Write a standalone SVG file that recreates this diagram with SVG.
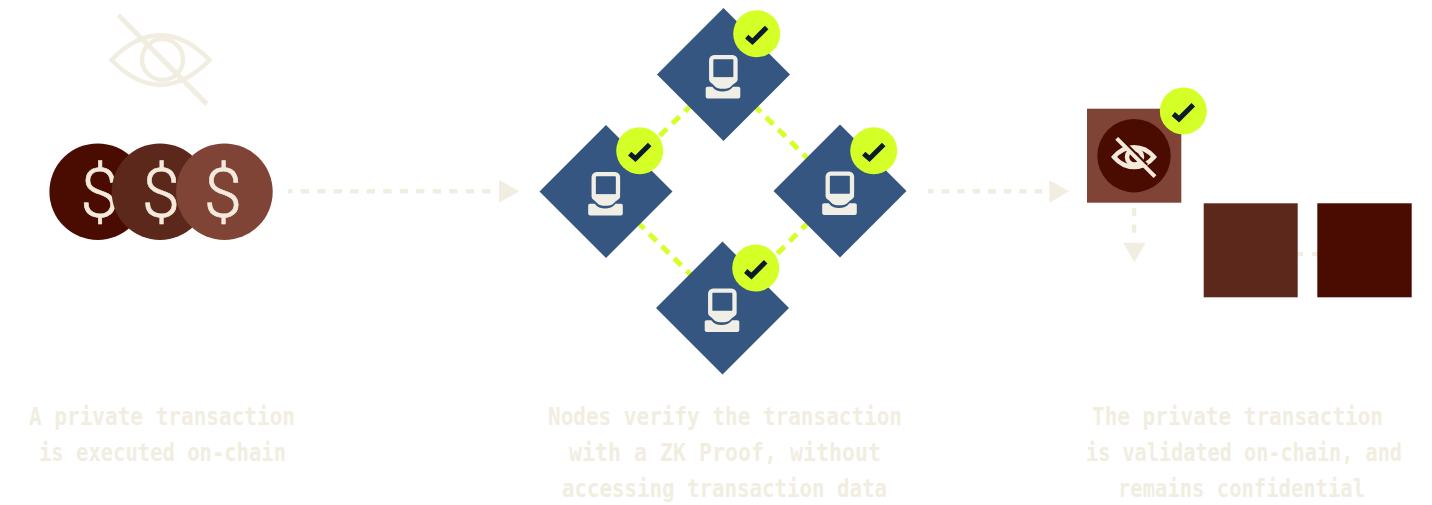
<svg xmlns="http://www.w3.org/2000/svg" width="1432" height="505" viewBox="0 0 1432 505">
<style>
.lab{font-family:"DejaVu Sans Mono","Liberation Mono",monospace;font-weight:700;font-size:24px;fill:#f1eee1}
.usd{font-family:Roboto,"Liberation Sans",sans-serif;font-weight:300;font-size:69px;fill:#f4eadc;stroke:#f4eadc;stroke-width:.6;text-anchor:middle}
.g{stroke:#d4ff27;stroke-width:5;stroke-dasharray:10 7.4;fill:none}
.b{stroke:#f1eee1;stroke-width:4.5;stroke-dasharray:8.300 8.200;fill:none}
.h{fill:#f1eee1}
.eye{fill:none;stroke:#f1eee1;stroke-width:4.500}
.eyes{fill:none;stroke:#f4eadc;stroke-width:4.500}
.d{fill:#345680}
</style>
<defs>
<g id="badge"><circle r="23.5" fill="#d4ff27"/><path d="M-10 3L-4.300 8 10-6.300" fill="none" stroke="#0c1b28" stroke-width="5"/></g>
<g id="pc"><rect x="-12.300" y="-17.400" width="24.300" height="22.400" rx="3" fill="none" stroke="#f1eee6" stroke-width="4.300"/><path d="M-14.400 3V5.500C-14 8-11 9-9 11.500C-7 13.800-4 14.300-1 14.300C3 14.300 6 13.800 8 11.500C10 9 13.500 8 14.100 5.500V3Z" fill="#f1eee6"/><path d="M-16 12.200H-11.200C-9 15.500-5 17-1 17C3 17 7 15.500 9.500 12.200H15C16 12.200 16.800 13 16.800 14V22C16.800 23 16 23.900 15 23.900H-16C-17 23.900-17.800 23-17.800 22V14C-17.800 13-17 12.200-16 12.200Z" fill="#f1eee6"/></g>
</defs>
<rect width="1432" height="505" fill="#fff"/>
<g id="connectors">
<path class="g" d="M692 104.500L648 147"/>
<path class="g" d="M753.700 105L808 159"/>
<path class="g" d="M637 221.700L692 276"/>
<path class="g" d="M809 221.700L765 266"/>
<path class="b" stroke-dashoffset="3.800" d="M288 191.300H491"/>
<path class="h" d="M499 180L519.300 191.300 499 202.700Z"/>
<path class="b" style="stroke-dasharray:7.500 8" stroke-dashoffset="1.800" d="M928 191.300H1043"/>
<path class="h" d="M1049.300 180L1069 191.300 1049.300 203Z"/>
<path class="b" d="M1134 208V234"/>
<path class="h" d="M1123.300 242.700H1145.700L1134.300 262.300Z"/>
<path class="b" style="stroke-dasharray:5.500 9" d="M1297.700 254H1318"/>
</g>
<g id="hidden-eye"><path class="eye" d="M111.500 60C128 43 143 35.300 160.500 35.300S193 43 209.500 60C193 77 178 84.700 160.500 84.700S128 77 111.500 60Z"/><circle class="eye" cx="162.500" cy="59.500" r="20.500"/><path class="eye" style="stroke-width:5" d="M118.300 15L206.700 104"/></g>
<g id="coins">
<circle cx="97.700" cy="191.700" r="48.300" fill="#4a0c00"/><text class="usd" x="99.300" y="216.700">$</text>
<circle cx="160" cy="191.700" r="48.300" fill="#5c281c"/><text class="usd" x="161" y="216.700">$</text>
<circle cx="224.400" cy="191.700" r="48.300" fill="#7f4435"/><text class="usd" x="223" y="216.700">$</text>
</g>
<g id="node-top"><path class="d" d="M723.500 8L790 74.500 723.500 141 657 74.500Z"/><use href="#pc" x="723.500" y="74.500"/><use href="#badge" x="756.700" y="33.700"/></g>
<g id="node-left"><path class="d" d="M606 125L672.500 191.500 606 258 539.500 191.500Z"/><use href="#pc" x="606" y="191.500"/><use href="#badge" x="639.700" y="150.700"/></g>
<g id="node-right"><path class="d" d="M840 124.500L906.500 191 840 257.500 773.500 191Z"/><use href="#pc" x="840" y="191"/><use href="#badge" x="873.700" y="150.700"/></g>
<g id="node-bottom"><path class="d" d="M722.500 241.500L789 308 722.500 374.500 656 308Z"/><use href="#pc" x="722.500" y="308"/><use href="#badge" x="755.700" y="268"/></g>
<g id="block-private"><rect x="1087" y="108.700" width="94.300" height="94" fill="#7f4435"/><circle cx="1134" cy="155.700" r="36.700" fill="#4a0c00"/><path class="eyes" d="M1114 157C1120 150 1127 147.300 1134 147.300S1148 150 1154 157C1148 164 1141 167 1134 167S1120 164 1114 157Z"/><circle class="eyes" cx="1134.500" cy="157" r="7.500"/><path d="M1127 145L1147 165" stroke="#4a0c00" stroke-width="3" fill="none"/><path class="eyes" style="stroke-width:4" d="M1116.700 138.300L1155 176.700"/><use href="#badge" x="1183.300" y="111"/></g>
<g id="block-2"><rect x="1203.700" y="203.300" width="94" height="94" fill="#5c281c"/></g>
<g id="block-3"><rect x="1317.300" y="203.300" width="94.400" height="94" fill="#4a0c00"/></g>
<g id="labels">
<text class="lab" x="29" y="425" textLength="266" lengthAdjust="spacingAndGlyphs">A private transaction</text>
<text class="lab" x="39" y="461" textLength="247" lengthAdjust="spacingAndGlyphs">is executed on-chain</text>
<text class="lab" x="548" y="425" textLength="354" lengthAdjust="spacingAndGlyphs">Nodes verify the transaction</text>
<text class="lab" x="569" y="461" textLength="312" lengthAdjust="spacingAndGlyphs">with a ZK Proof, without</text>
<text class="lab" x="562" y="497" textLength="325" lengthAdjust="spacingAndGlyphs">accessing transaction data</text>
<text class="lab" x="1092" y="425" textLength="291" lengthAdjust="spacingAndGlyphs">The private transaction</text>
<text class="lab" x="1086" y="461" textLength="316" lengthAdjust="spacingAndGlyphs">is validated on-chain, and</text>
<text class="lab" x="1118" y="497" textLength="247" lengthAdjust="spacingAndGlyphs">remains confidential</text>
</g>
</svg>
